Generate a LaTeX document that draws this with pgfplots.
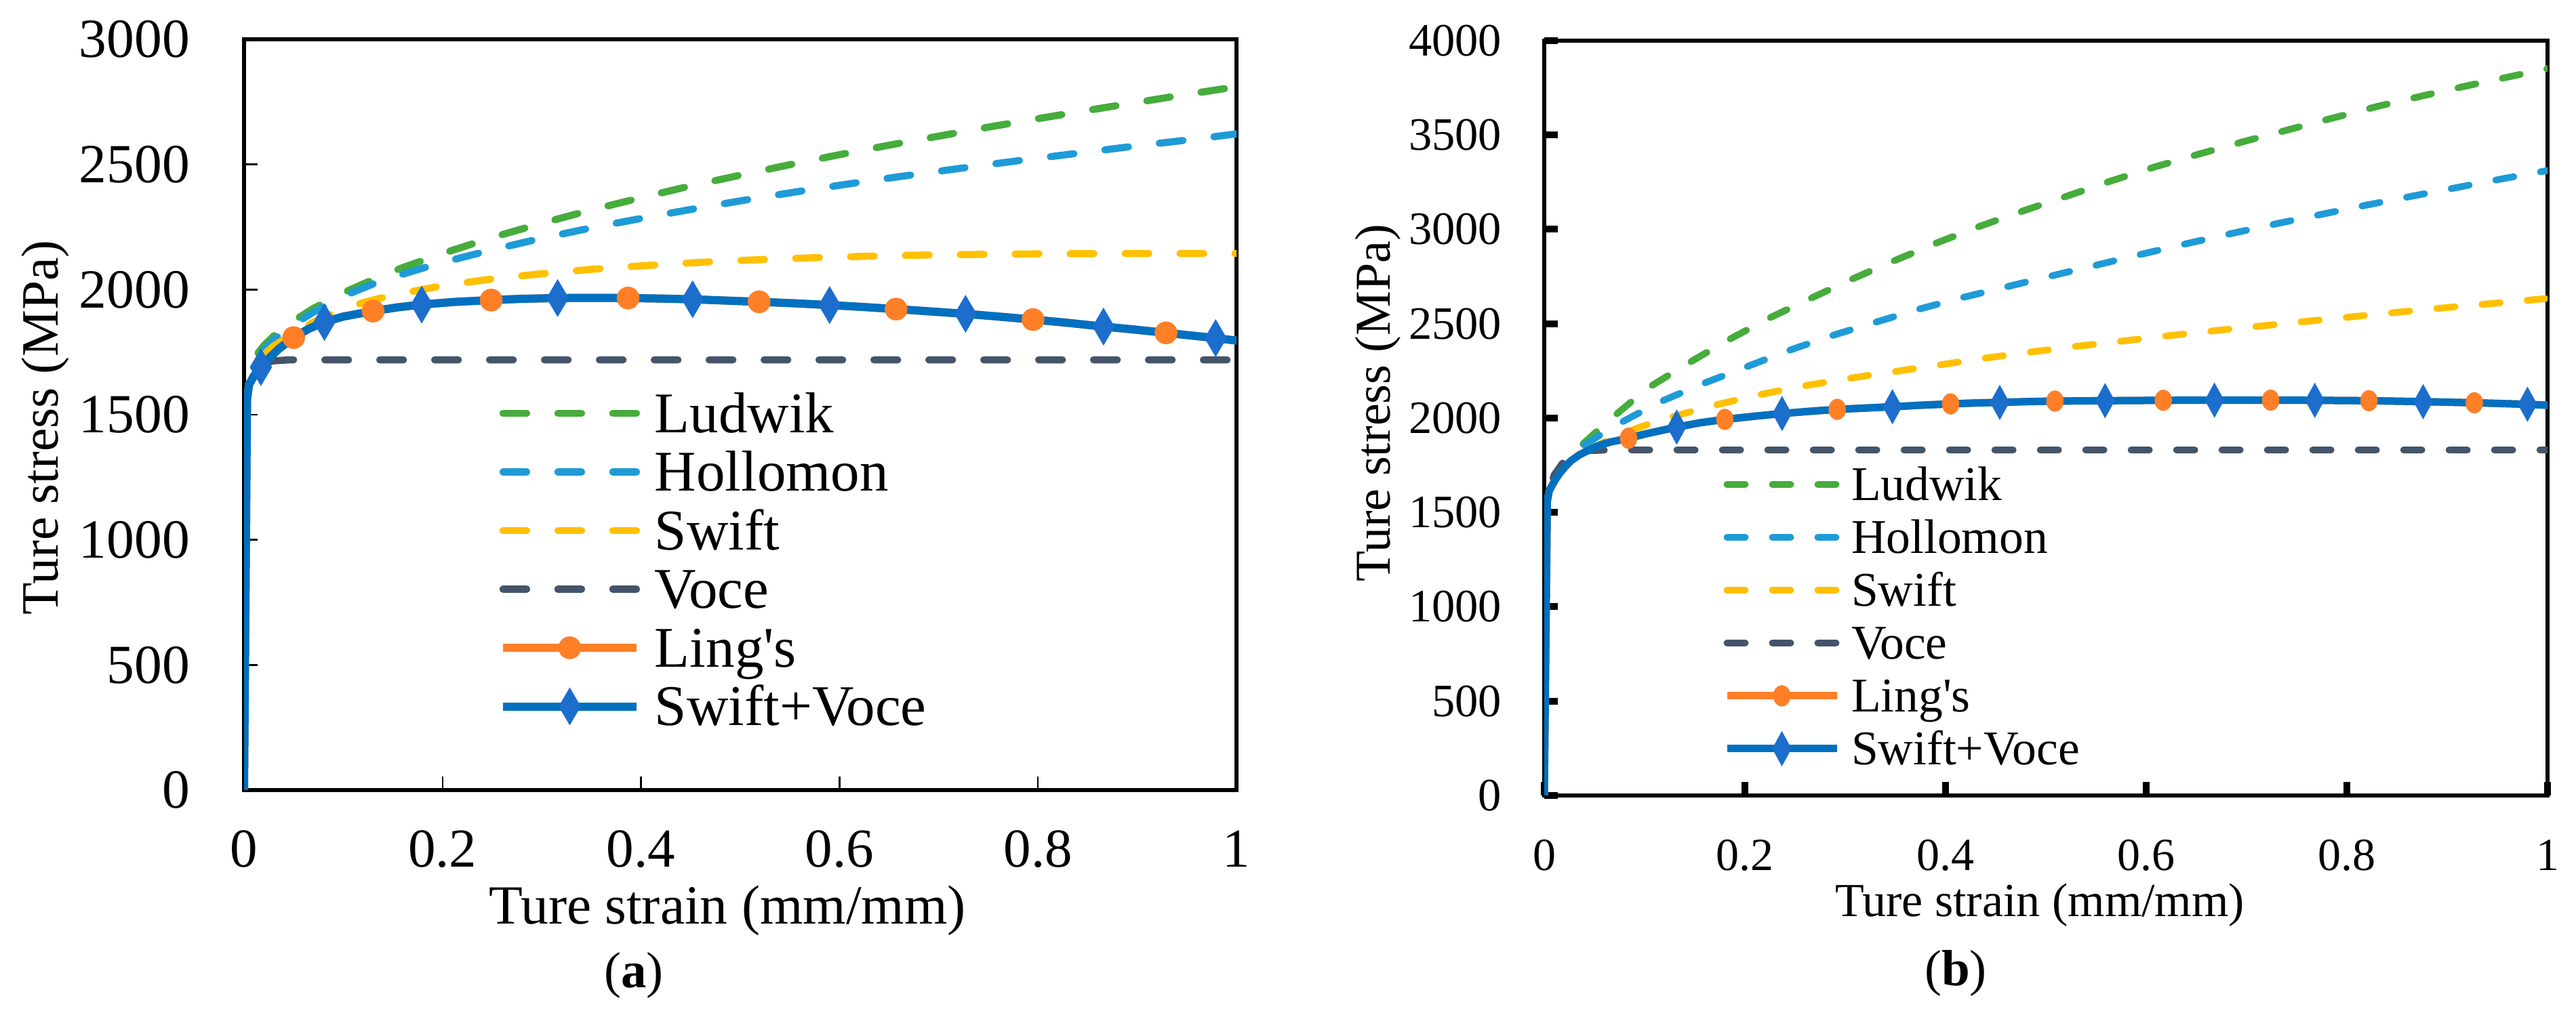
\documentclass[border=0pt]{standalone}
\usepackage{fontspec}
\setmainfont{Liberation Serif}
\usepackage{pgfplots}
\pgfplotsset{compat=1.18}
\definecolor{cLud}{RGB}{70,172,60}
\definecolor{cHol}{RGB}{30,155,215}
\definecolor{cSwi}{RGB}{255,192,0}
\definecolor{cVoc}{RGB}{68,84,106}
\definecolor{cLin}{RGB}{255,127,39}
\definecolor{cSV}{RGB}{0,112,192}
\definecolor{cDia}{RGB}{28,110,205}
\pgfplotsset{
  dashA/.style={line width=2.1pt, dash pattern=on 7pt off 9.2pt, line cap=round},
  dashB/.style={line width=2pt, dash pattern=on 5.4pt off 8pt, line cap=round},
}
\begin{document}
\begin{tikzpicture}
\useasboundingbox (0,0) rectangle (760pt,299pt);
% ---------------- panel (a)
\begin{axis}[
  at={(72pt,65.8pt)}, anchor=south west, scale only axis,
  width=292.8pt, height=221.6pt,
  xmin=0, xmax=1, ymin=0, ymax=3000,
  xtick={0,0.2,0.4,0.6,0.8,1}, xticklabels={0,0.2,0.4,0.6,0.8,1},
  ytick={0,500,1000,1500,2000,2500,3000}, yticklabels={0,500,1000,1500,2000,2500,3000},
  tick align=inside, tick pos=left, major tick length=4pt,
  tick style={black, line width=0.5pt},
  axis line style={black, line width=1.2pt},
  xticklabel style={font=\fontsize{16.2}{19}\selectfont, anchor=center, inner sep=0pt, yshift=-17.4pt},
  yticklabel style={font=\fontsize{16.3}{19}\selectfont, anchor=east, inner sep=0pt, xshift=-15.8pt},
  xlabel={Ture strain (mm/mm)}, ylabel={Ture stress (MPa)},
  xlabel style={at={(axis description cs:0.487,-0.1607)}, anchor=center, font=\fontsize{16.3}{20}\selectfont, inner sep=0pt},
  ylabel style={at={(axis description cs:-0.2,0.483)}, anchor=center, font=\fontsize{15.5}{18}\selectfont, inner sep=0pt},
  legend cell align=left,
  legend style={at={(axis description cs:0.2561,0.5417)}, anchor=north west, draw=none, fill=none, inner sep=0pt, row sep=0pt, column sep=4.2pt, font=\fontsize{17}{20}\selectfont, nodes={inner sep=0pt, text height=14.25pt, text depth=3.05pt}},
  legend image code/.code={\draw[mark repeat=2,mark phase=2,#1] plot coordinates {(0pt,0pt) (19.7pt,0pt) (39.4pt,0pt)};},
]
\addplot[forget plot, cLud, dashA] coordinates {
(0,0) (0.003,1560) (0.005,1620) (0.01,1726) (0.02,1776) (0.03,1815) (0.04,1847) (0.05,1875) (0.07,1925) (0.1,1987) (0.13,2040) (0.16,2088) (0.2,2144) (0.25,2208) (0.3,2265) (0.35,2318) (0.4,2367) (0.45,2414) (0.5,2457) (0.55,2499) (0.6,2539) (0.65,2577) (0.7,2613) (0.75,2649) (0.8,2683) (0.85,2716) (0.9,2748) (0.95,2780) (1,2810)};
\addplot[forget plot, cHol, dashA] coordinates {
(0,0) (0.003,1560) (0.005,1620) (0.01,1700) (0.02,1760) (0.03,1800) (0.05,1860) (0.07,1910) (0.09,1950) (0.11,1990) (0.138,2035) (0.192,2100) (0.246,2155) (0.3,2205) (0.352,2248) (0.408,2290) (0.464,2330) (0.519,2367) (0.572,2400) (0.626,2432) (0.68,2462) (0.736,2492) (0.792,2521) (0.847,2548) (0.901,2575) (0.956,2600) (1,2622)};
\addplot[forget plot, cSwi, dashA] coordinates {
(0,0) (0.003,1560) (0.005,1620) (0.01,1690) (0.02,1740) (0.03,1775) (0.05,1825) (0.07,1870) (0.094,1912) (0.12,1948) (0.15,1978) (0.204,2018) (0.259,2047) (0.315,2069) (0.37,2087) (0.426,2101) (0.48,2113) (0.535,2122) (0.59,2129) (0.646,2135) (0.701,2139) (0.757,2141) (0.813,2143) (0.9,2144) (1,2144)};
\addplot[forget plot, cVoc, dashA] coordinates {
(0,0) (0.003,1560) (0.005,1620) (0.01,1675) (0.02,1706) (0.03,1715) (0.045,1719) (1,1719)};
\addplot[forget plot, cLin, line width=2.4pt] coordinates {
(0,0) (0.003,1560) (0.005,1620) (0.01,1655) (0.017,1690) (0.025,1725) (0.035,1763) (0.05,1808) (0.065,1843) (0.081,1870) (0.1,1892) (0.13,1914) (0.155,1929) (0.179,1940) (0.21,1950) (0.249,1958) (0.28,1963) (0.316,1966) (0.35,1967) (0.387,1966) (0.42,1964) (0.452,1961) (0.485,1956) (0.519,1951) (0.555,1945) (0.59,1938) (0.625,1930) (0.657,1922) (0.69,1913) (0.727,1903) (0.76,1892) (0.795,1880) (0.83,1867) (0.866,1852) (0.9,1839) (0.929,1827) (0.955,1816) (0.979,1806) (1,1796)};
\addplot[forget plot, cSV, line width=2.4pt] coordinates {
(0,0) (0.003,1560) (0.005,1620) (0.01,1655) (0.017,1690) (0.025,1725) (0.035,1763) (0.05,1808) (0.065,1843) (0.081,1870) (0.1,1892) (0.13,1914) (0.155,1929) (0.179,1940) (0.21,1950) (0.249,1958) (0.28,1963) (0.316,1966) (0.35,1967) (0.387,1966) (0.42,1964) (0.452,1961) (0.485,1956) (0.519,1951) (0.555,1945) (0.59,1938) (0.625,1930) (0.657,1922) (0.69,1913) (0.727,1903) (0.76,1892) (0.795,1880) (0.83,1867) (0.866,1852) (0.9,1839) (0.929,1827) (0.955,1816) (0.979,1806) (1,1796)};
\addplot[forget plot, only marks, mark=diamond*, mark size=5.3pt, mark options={xscale=0.78, draw=cDia, fill=cDia, line width=0.3pt}] coordinates {
(0.017,1690) (0.081,1870) (0.179,1940) (0.316,1966) (0.452,1961) (0.59,1938) (0.727,1903) (0.866,1852) (0.979,1806)};
\addplot[forget plot, only marks, mark=*, mark size=3.2pt, mark options={draw=cLin, fill=cLin, line width=0.3pt}] coordinates {
(0.05,1808) (0.13,1914) (0.249,1958) (0.387,1966) (0.519,1951) (0.657,1922) (0.795,1880) (0.929,1827)};
\addlegendimage{cLud, dashA}\addlegendentry{Ludwik}
\addlegendimage{cHol, dashA}\addlegendentry{Hollomon}
\addlegendimage{cSwi, dashA}\addlegendentry{Swift}
\addlegendimage{cVoc, dashA}\addlegendentry{Voce}
\addlegendimage{cLin, line width=2.4pt, mark=*, mark size=3.2pt, mark options={draw=cLin, fill=cLin, line width=0.3pt}}\addlegendentry{Ling\textquotesingle s}
\addlegendimage{cSV, line width=2.4pt, mark=diamond*, mark size=5.3pt, mark options={xscale=0.78, draw=cDia, fill=cDia, line width=0.3pt}}\addlegendentry{Swift+Voce}
\end{axis}
% ---------------- panel (b)
\begin{axis}[
  at={(455.6pt,64.2pt)}, anchor=south west, scale only axis,
  width=296pt, height=222.8pt,
  xmin=0, xmax=1, ymin=0, ymax=4000,
  xtick={0,0.2,0.4,0.6,0.8,1}, xticklabels={0,0.2,0.4,0.6,0.8,1},
  ytick={0,500,1000,1500,2000,2500,3000,3500,4000}, yticklabels={0,500,1000,1500,2000,2500,3000,3500,4000},
  tick align=inside, tick pos=left, major tick length=4pt,
  tick style={black, line width=2pt},
  axis line style={black, line width=1.2pt},
  xticklabel style={font=\fontsize{13.6}{16}\selectfont, anchor=center, inner sep=0pt, yshift=-17.6pt},
  yticklabel style={font=\fontsize{13.7}{16}\selectfont, anchor=east, inner sep=0pt, xshift=-12.4pt},
  xlabel={Ture strain (mm/mm)}, ylabel={Ture stress (MPa)},
  xlabel style={at={(axis description cs:0.494,-0.1454)}, anchor=center, font=\fontsize{14}{17}\selectfont, inner sep=0pt},
  ylabel style={at={(axis description cs:-0.1655,0.52)}, anchor=center, font=\fontsize{14.8}{17}\selectfont, inner sep=0pt},
  legend cell align=left,
  legend style={at={(axis description cs:0.1777,0.448)}, anchor=north west, draw=none, fill=none, inner sep=0pt, row sep=0pt, column sep=3.2pt, font=\fontsize{14.3}{17}\selectfont, nodes={inner sep=0pt, text height=12.5pt, text depth=3.1pt}},
  legend image code/.code={\draw[mark repeat=2,mark phase=2,#1] plot coordinates {(0pt,0pt) (16.2pt,0pt) (32.4pt,0pt)};},
]
\addplot[forget plot, cLud, dashB] coordinates {
(0,0) (0.003,1560) (0.005,1620) (0.015,1720) (0.035,1846) (0.064,1985) (0.102,2155) (0.143,2289) (0.182,2410) (0.224,2529) (0.265,2633) (0.307,2737) (0.349,2834) (0.392,2930) (0.435,3018) (0.478,3099) (0.522,3178) (0.564,3255) (0.608,3330) (0.652,3398) (0.697,3465) (0.741,3527) (0.786,3590) (0.83,3651) (0.875,3707) (0.919,3760) (0.964,3811) (1,3852)};
\addplot[forget plot, cHol, dashB] coordinates {
(0,0) (0.003,1560) (0.005,1620) (0.015,1715) (0.035,1840) (0.069,1955) (0.113,2080) (0.155,2176) (0.199,2266) (0.241,2353) (0.285,2434) (0.329,2506) (0.374,2578) (0.417,2639) (0.462,2697) (0.506,2754) (0.55,2810) (0.595,2868) (0.64,2924) (0.685,2978) (0.73,3030) (0.775,3080) (0.82,3129) (0.865,3176) (0.91,3222) (0.953,3266) (0.993,3305) (1,3312)};
\addplot[forget plot, cSwi, dashB] coordinates {
(0,0) (0.003,1560) (0.005,1620) (0.015,1710) (0.035,1805) (0.072,1907) (0.113,1985) (0.165,2062) (0.211,2120) (0.256,2168) (0.301,2208) (0.346,2244) (0.392,2280) (0.437,2316) (0.482,2348) (0.527,2378) (0.573,2406) (0.618,2434) (0.663,2460) (0.709,2485) (0.755,2510) (0.8,2534) (0.845,2558) (0.89,2581) (0.936,2603) (0.982,2625) (1,2634)};
\addplot[forget plot, cVoc, dashB] coordinates {
(0,0) (0.003,1560) (0.005,1620) (0.01,1700) (0.02,1775) (0.03,1810) (0.045,1827) (0.065,1831) (1,1831)};
\addplot[forget plot, cLin, line width=2.2pt] coordinates {
(0,0) (0.003,1560) (0.005,1615) (0.01,1665) (0.015,1705) (0.022,1750) (0.027,1775) (0.035,1805) (0.045,1832) (0.053,1852) (0.065,1872) (0.084,1893) (0.1,1915) (0.132,1952) (0.155,1975) (0.18,1993) (0.21,2010) (0.237,2024) (0.265,2036) (0.292,2046) (0.32,2053) (0.347,2060) (0.375,2068) (0.405,2075) (0.43,2080) (0.454,2083) (0.48,2087) (0.509,2090) (0.559,2092) (0.617,2094) (0.668,2095) (0.724,2095) (0.768,2094) (0.822,2092) (0.876,2087) (0.927,2081) (0.98,2073) (1,2068)};
\addplot[forget plot, cSV, line width=2.2pt] coordinates {
(0,0) (0.003,1560) (0.005,1615) (0.01,1665) (0.015,1705) (0.022,1750) (0.027,1775) (0.035,1805) (0.045,1832) (0.053,1852) (0.065,1872) (0.084,1893) (0.1,1915) (0.132,1952) (0.155,1975) (0.18,1993) (0.21,2010) (0.237,2024) (0.265,2036) (0.292,2046) (0.32,2053) (0.347,2060) (0.375,2068) (0.405,2075) (0.43,2080) (0.454,2083) (0.48,2087) (0.509,2090) (0.559,2092) (0.617,2094) (0.668,2095) (0.724,2095) (0.768,2094) (0.822,2092) (0.876,2087) (0.927,2081) (0.98,2073) (1,2068)};
\addplot[forget plot, only marks, mark=diamond*, mark size=4.9pt, mark options={xscale=0.73, draw=cDia, fill=cDia, line width=0.3pt}] coordinates {
(0.132,1952) (0.237,2024) (0.347,2060) (0.454,2083) (0.559,2092) (0.668,2095) (0.768,2094) (0.876,2087) (0.98,2073)};
\addplot[forget plot, only marks, mark=*, mark size=3pt, mark options={xscale=0.8, draw=cLin, fill=cLin, line width=0.3pt}] coordinates {
(0.084,1893) (0.18,1993) (0.292,2046) (0.405,2075) (0.509,2090) (0.617,2094) (0.724,2095) (0.822,2092) (0.927,2081)};
\addlegendimage{cLud, dashB}\addlegendentry{Ludwik}
\addlegendimage{cHol, dashB}\addlegendentry{Hollomon}
\addlegendimage{cSwi, dashB}\addlegendentry{Swift}
\addlegendimage{cVoc, dashB}\addlegendentry{Voce}
\addlegendimage{cLin, line width=2.2pt, mark=*, mark size=3pt, mark options={xscale=0.8, draw=cLin, fill=cLin, line width=0.3pt}}\addlegendentry{Ling\textquotesingle s}
\addlegendimage{cSV, line width=2.2pt, mark=diamond*, mark size=4.9pt, mark options={xscale=0.73, draw=cDia, fill=cDia, line width=0.3pt}}\addlegendentry{Swift+Voce}
\end{axis}
\node[font=\fontsize{15}{18}\selectfont] at (187pt,11.2pt) {(\textbf{a})};
\node[font=\fontsize{15}{18}\selectfont] at (577pt,11.8pt) {(\textbf{b})};
\end{tikzpicture}
\end{document}
